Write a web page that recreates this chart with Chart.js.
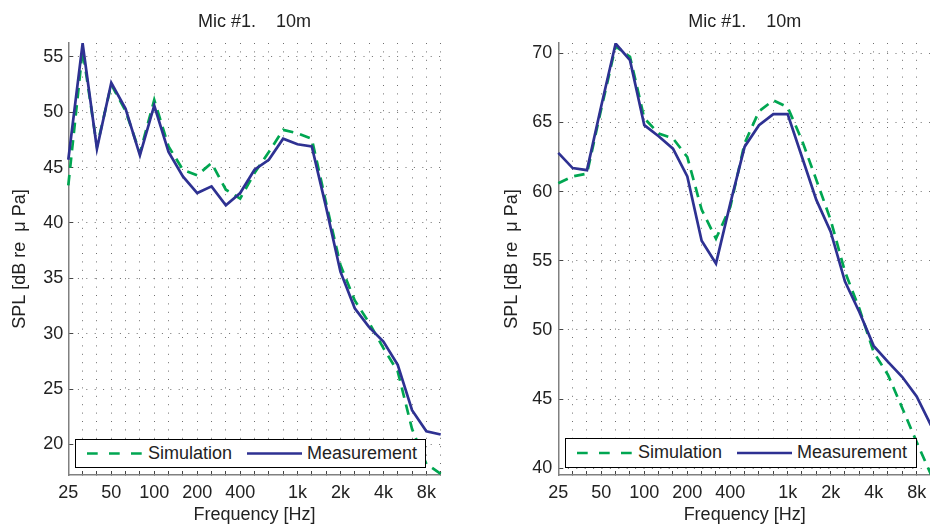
<!DOCTYPE html>
<html>
<head>
<meta charset="utf-8">
<title>Mic #1. 10m</title>
<script src="https://cdn.jsdelivr.net/npm/chart.js@4/dist/chart.umd.min.js"></script>
<style>
  html, body { margin: 0; padding: 0; width: 930px; height: 530px; overflow: hidden; background: #fff; }
  canvas { position: absolute; top: 0; }
  #chartLeft { left: 0; }
  #chartRight { left: 491px; }
  .legend {
    position: absolute; box-sizing: border-box; border: 1px solid #000; background: #fff;
    font: 18px "Liberation Sans", Arial, sans-serif; color: #222; z-index: 2;
  }
  .legend svg { position: absolute; left: 0; top: 0; }
  .legend span { position: absolute; top: -1px; line-height: 28px; white-space: nowrap; }
</style>
</head>
<body>
<canvas id="chartLeft" width="465" height="530"></canvas>
<canvas id="chartRight" width="465" height="530"></canvas>

<div class="legend" style="left:75px; top:439px; width:351px; height:29px;">
  <svg width="349" height="27">
    <line x1="11" y1="13.5" x2="66" y2="13.5" stroke="#00A651" stroke-width="2.7" stroke-dasharray="10.7 11.3"/>
    <line x1="171" y1="13.5" x2="226" y2="13.5" stroke="#2E3192" stroke-width="2.7"/>
  </svg>
  <span style="left:72px;">Simulation</span>
  <span style="left:231px;">Measurement</span>
</div>
<div class="legend" style="left:565px; top:438px; width:352px; height:30px;">
  <svg width="350" height="28">
    <line x1="11" y1="14" x2="66" y2="14" stroke="#00A651" stroke-width="2.7" stroke-dasharray="10.7 11.3"/>
    <line x1="171" y1="14" x2="226" y2="14" stroke="#2E3192" stroke-width="2.7"/>
  </svg>
  <span style="left:72px;">Simulation</span>
  <span style="left:231px;">Measurement</span>
</div>

<script>
// Third-octave band centre frequencies (Hz), one category per band
const bands = [25, 31.5, 40, 50, 63, 80, 100, 125, 160, 200, 250, 315, 400, 500, 630,
               800, 1000, 1250, 1600, 2000, 2500, 3150, 4000, 5000, 6300, 8000, 10000];

// Bands that carry a printed tick label
const tickText = { 25: '25', 50: '50', 100: '100', 200: '200', 400: '400',
                   1000: '1k', 2000: '2k', 4000: '4k', 8000: '8k' };

// Left panel SPL (dB re 1 µPa)
const leftSim  = [43.4, 55.6, 46.9, 52.5, 50.1, 46.3, 51.1, 46.9, 44.8, 44.3, 45.4, 43.0, 42.2, 44.5,
                  46.4, 48.4, 48.1, 47.6, 41.8, 36.2, 33.0, 31.0, 28.7, 26.6, 21.4, 18.25, 17.35];
const leftMeas = [45.7, 56.2, 46.7, 52.65, 50.3, 46.1, 50.6, 46.4, 44.2, 42.7, 43.3, 41.6, 42.7, 44.8,
                  45.7, 47.6, 47.1, 46.9, 41.4, 35.6, 32.3, 30.6, 29.3, 27.2, 23.1, 21.2, 20.9];

// Right panel SPL (dB re 1 µPa)
const rightSim  = [60.6, 61.1, 61.3, 66.0, 70.5, 69.75, 65.3, 64.2, 63.85, 62.5, 58.7, 56.6, 58.9, 63.5,
                   65.8, 66.6, 66.1, 63.7, 60.85, 57.95, 54.2, 51.55, 48.4, 46.75, 44.35, 41.9, 39.55];
const rightMeas = [62.8, 61.7, 61.55, 66.2, 70.7, 69.5, 64.8, 64.0, 63.1, 61.1, 56.45, 54.8, 59.15, 63.25,
                   64.8, 65.6, 65.6, 62.5, 59.4, 57.1, 53.5, 51.3, 48.85, 47.7, 46.6, 45.2, 43.1];

const seriesNames = ['Simulation', 'Measurement'];
const titleText = 'Mic #1.    10m';
const xTitle = 'Frequency [Hz]';
const yTitle = 'SPL [dB re  μ Pa]';

Chart.defaults.font.family = '"Liberation Sans", Arial, sans-serif';
Chart.defaults.color = '#222';

const INK = '#222';
const GRID = '#6e6e6e';
const AXIS = '#808080';

function makePanel(id, sim, meas, yMin, yMax, cfg) {
  return new Chart(document.getElementById(id), {
    type: 'line',
    data: {
      labels: bands,
      datasets: [
        { label: seriesNames[0], data: sim, order: 1, borderColor: '#00A651', borderWidth: 2.7,
          borderDash: [10.5, 7], pointRadius: 0, tension: 0, borderJoinStyle: 'miter', fill: false },
        { label: seriesNames[1], data: meas, order: 0, borderColor: '#2E3192', borderWidth: 2.7,
          pointRadius: 0, tension: 0, borderJoinStyle: 'miter', fill: false }
      ]
    },
    options: {
      responsive: false,
      animation: false,
      devicePixelRatio: 1,
      layout: { padding: { left: 0, right: cfg.padRight, top: 0, bottom: 0 } },
      plugins: {
        legend: { display: false },
        tooltip: { enabled: false },
        title: {
          display: true, text: titleText, fullSize: false, color: INK,
          font: { size: 18, weight: 'normal' }, padding: { top: 11.4, bottom: 10 }
        }
      },
      scales: {
        x: {
          type: 'category',
          offset: false,
          afterFit: s => { s.height = 55; },
          grid: { color: GRID, lineWidth: 1, offset: false, drawTicks: true, tickLength: -4,
                  tickColor: '#444', tickWidth: 1 },
          border: { display: true, color: AXIS, width: 1.5, dash: [1, 7.4] },
          ticks: {
            autoSkip: false, maxRotation: 0, minRotation: 0, padding: 10.9, color: INK,
            font: { size: 18 },
            callback: (value, index) => tickText[bands[index]] || ''
          },
          title: { display: true, text: xTitle, color: INK, font: { size: 18 },
                   padding: { top: 0, bottom: 4.2 } }
        },
        y: {
          type: 'linear',
          min: yMin, max: yMax,
          afterFit: s => { s.width = cfg.yWidth; },
          grid: { color: GRID, lineWidth: 1, drawTicks: true, tickLength: -5,
                  tickColor: '#444', tickWidth: 1 },
          border: { display: true, color: AXIS, width: 1.5, dash: [1, 7.4] },
          ticks: { stepSize: 5, includeBounds: false, padding: cfg.yTickPad, color: INK,
                   font: { size: 18 } },
          title: { display: true, text: yTitle, color: INK, font: { size: 18 },
                   padding: { top: cfg.yTitlePad, bottom: 0 } }
        }
      }
    }
  });
}

makePanel('chartLeft', leftSim, leftMeas, 17.25, 56.24,
          { padRight: 24.3, yWidth: 68.3, yTickPad: 10, yTitlePad: 9.2 });
makePanel('chartRight', rightSim, rightMeas, 39.52, 70.74,
          { padRight: 25, yWidth: 67.3, yTickPad: 11, yTitlePad: 10.7 });
</script>
</body>
</html>
